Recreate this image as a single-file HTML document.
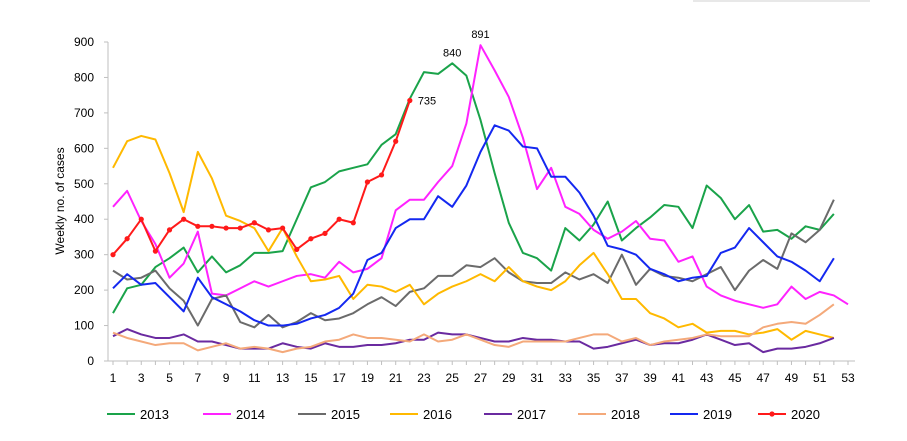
<!DOCTYPE html>
<html><head><meta charset="utf-8"><style>
body{margin:0;background:#fff}
svg{display:block;font-family:"Liberation Sans",sans-serif}
</style></head><body>
<svg id="c" width="907" height="441">
<line x1="693" y1="1" x2="870" y2="1" stroke="#d0d0d0"/>
<text transform="translate(64,201) rotate(-90)" text-anchor="middle" font-size="12" fill="#000">Weekly no. of cases</text>
</svg>
<script>
const weeks=[];for(let i=1;i<=53;i++)weeks.push(i);
const yTicks=[0,100,200,300,400,500,600,700,800,900];
const xTickLabels=[1,3,5,7,9,11,13,15,17,19,21,23,25,27,29,31,33,35,37,39,41,43,45,47,49,51,53];
const s2013=[135,205,215,265,290,320,250,295,250,270,305,305,310,400,490,505,535,545,555,610,640,740,815,810,840,805,680,530,390,305,290,255,375,340,385,450,340,375,405,440,435,375,495,460,400,440,365,370,345,380,370,415];
const s2014=[435,480,395,330,235,275,365,190,185,205,225,210,225,240,245,235,280,250,260,290,425,455,455,505,550,670,891,820,745,630,485,545,435,415,370,345,365,395,345,340,280,295,210,185,170,160,150,160,210,175,195,185,160];
const s2015=[255,230,235,255,205,170,100,175,185,110,95,130,95,110,135,115,120,135,160,180,155,195,205,240,240,270,265,290,250,225,220,220,250,230,245,220,300,215,260,240,235,225,245,265,200,255,285,260,360,335,370,455];
const s2016=[545,620,635,625,530,420,590,515,410,395,375,310,375,295,225,230,240,175,215,210,195,215,160,190,210,225,245,225,265,225,210,200,225,270,305,245,175,175,135,120,95,105,80,85,85,75,80,90,60,85,75,65];
const s2017=[70,90,75,65,65,75,55,55,45,35,35,35,50,40,35,50,40,40,45,45,50,60,60,80,75,75,65,55,55,65,60,60,55,55,35,40,50,60,45,50,50,60,75,60,45,50,25,35,35,40,50,65];
const s2018=[80,65,55,45,50,50,30,40,50,35,40,35,25,35,40,55,60,75,65,65,60,55,75,55,60,75,60,45,40,55,55,55,55,65,75,75,55,65,45,55,60,65,75,70,70,70,95,105,110,105,130,160];
const s2019=[205,245,215,220,180,140,235,180,160,140,115,100,100,105,120,130,150,190,285,305,375,400,400,465,435,495,590,665,650,605,600,520,520,475,410,325,315,300,260,245,225,235,240,305,320,375,335,295,280,255,225,290];
const s2020=[300,345,400,310,370,400,380,380,375,375,390,370,375,315,345,360,400,390,505,525,620,735];
const seriesNames=["2013","2014","2015","2016","2017","2018","2019","2020"];
const seriesData=[s2013,s2014,s2015,s2016,s2017,s2018,s2019,s2020];
const colors=["#1aa34a","#ff22ff","#6b6b6b","#ffb900","#6a2aa0","#f4a97a","#1428f0","#ff1a1a"];
const annotations=[[25,840,"840"],[27,891,"891"],[22,735,"735"]];
const svg=document.getElementById('c');const NS="http://www.w3.org/2000/svg";
const x0=113,x1=848,yb=361,yt=42;
const X=w=>x0+(w-1)*(x1-x0)/52;
const Y=v=>yb-v*(yb-yt)/900;
function el(t,a,p){const e=document.createElementNS(NS,t);for(const k in a)e.setAttribute(k,a[k]);(p||svg).appendChild(e);return e;}
let ax=el('line',{x1:108,y1:yt,x2:108,y2:yb,stroke:'#bfbfbf'});


let bx=el('line',{x1:108,y1:yb,x2:855,y2:yb,stroke:'#bfbfbf'});


yTicks.forEach(v=>{el('line',{x1:104,y1:Y(v),x2:108,y2:Y(v),stroke:'#bfbfbf'});
const t=el('text',{x:94,y:Y(v)+4,'text-anchor':'end','font-size':12});t.textContent=v;

});
weeks.forEach(w=>el('line',{x1:X(w),y1:yb,x2:X(w),y2:yb+4,stroke:'#bfbfbf'}));
xTickLabels.forEach(w=>{const t=el('text',{x:X(w),y:yb+21,'text-anchor':'middle','font-size':12});t.textContent=w;

});
seriesData.forEach((d,i)=>{
const p=el('polyline',{points:d.map((v,j)=>X(j+1)+','+Y(v)).join(' '),fill:'none',stroke:colors[i],'stroke-width':2,'stroke-linejoin':'round'});


if(i==7)d.forEach((v,j)=>{const c=el('circle',{cx:X(j+1),cy:Y(v),r:2.6,fill:colors[i]});

});
});
annotations.forEach(a=>{const t=el('text',{x:a[0]==22?X(a[0])+8:X(a[0]),y:a[0]==22?Y(a[1])+4:Y(a[1])-7,'text-anchor':a[0]==22?'start':'middle','font-size':11});t.textContent=a[2];

});
const lx=[107,203,298,390,484,578,670,758];
seriesNames.forEach((n,i)=>{const g=el('g',{});


el('line',{x1:lx[i],y1:414,x2:lx[i]+28,y2:414,stroke:colors[i],'stroke-width':2},g);
if(i==7)el('circle',{cx:lx[i]+14,cy:414,r:2.6,fill:colors[i]},g);
const t=el('text',{x:lx[i]+33,y:419,'font-size':13},g);t.textContent=n;});
</script>
</body></html>
